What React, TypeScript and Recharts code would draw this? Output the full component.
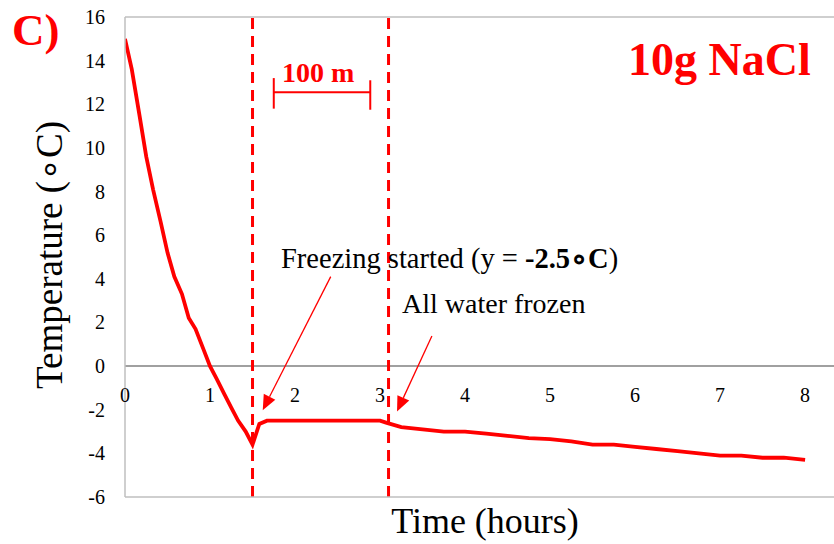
import React from 'react'
import { LineChart, Line, XAxis, YAxis, ReferenceLine } from 'recharts'

// time in hours
const times = [
  0, 0.08, 0.17, 0.25, 0.33, 0.42, 0.5, 0.58, 0.67, 0.75, 0.83, 0.92, 1.0,
  1.08, 1.17, 1.25, 1.33, 1.42, 1.5, 1.58, 1.67, 2.0, 2.5, 3.0, 3.08, 3.25,
  3.5, 3.75, 4.0, 4.25, 4.5, 4.75, 5.0, 5.25, 5.5, 5.75, 6.0, 6.25, 6.5,
  6.75, 7.0, 7.25, 7.5, 7.75, 8.0,
]
// temperature in °C
const temps = [
  15.0, 13.6, 11.5, 9.6, 8.1, 6.6, 5.2, 4.1, 3.3, 2.2, 1.7, 0.8, 0.0,
  -0.6, -1.3, -1.9, -2.5, -3.0, -3.6, -2.65, -2.5, -2.5, -2.5, -2.5, -2.6, -2.8,
  -2.9, -3.0, -3.0, -3.1, -3.2, -3.3, -3.35, -3.45, -3.6, -3.6, -3.7, -3.8, -3.9,
  -4.0, -4.1, -4.1, -4.2, -4.2, -4.3,
]
const xTicks = [0, 1, 2, 3, 4, 5, 6, 7, 8]
const yTicks = [-6, -4, -2, 0, 2, 4, 6, 8, 10, 12, 14, 16]

const FREEZE_START = 1.5
const ALL_FROZEN = 3.1

const W = 834
const H = 544
const TOP = 17
const BOTTOM = 497
const Y_MIN = -6
const Y_MAX = 16
const RED = '#ff0000'
const FONT = '"Liberation Serif", "Times New Roman", serif'

const data = times.map((t, i) => ({ t, temp: temps[i] }))

const zeroY = TOP + ((BOTTOM - TOP) * (Y_MAX - 0)) / (Y_MAX - Y_MIN)

function XTick(props: any) {
  const { x, payload } = props
  return (
    <text x={x} y={zeroY + 36} textAnchor="middle" fontSize={20} style={{ fontFamily: FONT }} fill="#000">
      {payload.value}
    </text>
  )
}

function YTick(props: any) {
  const { x, y, payload } = props
  return (
    <text x={x - 12} y={y + 7} textAnchor="end" fontSize={20} style={{ fontFamily: FONT }} fill="#000">
      {payload.value}
    </text>
  )
}

function Arrow(props: any) {
  const { x1, y1, x2, y2 } = props
  const a = Math.atan2(y2 - y1, x2 - x1)
  const len = 15
  const hw = 6.5
  const bx = x2 - len * Math.cos(a)
  const by = y2 - len * Math.sin(a)
  const px = -Math.sin(a) * hw
  const py = Math.cos(a) * hw
  return (
    <g>
      <line x1={x1} y1={y1} x2={bx} y2={by} stroke={RED} strokeWidth={1.3} />
      <polygon points={`${x2},${y2} ${bx + px},${by + py} ${bx - px},${by - py}`} fill={RED} />
    </g>
  )
}

export default function App() {
  return (
    <div style={{ position: 'absolute', left: 0, top: 0, width: W, height: H, background: '#fff', fontFamily: FONT }}>
      <LineChart
        width={W}
        height={H}
        data={data}
        margin={{ top: TOP, right: 0, bottom: H - BOTTOM - 20, left: 65 }}
        style={{ fontFamily: FONT }}
      >
        <XAxis
          dataKey="t"
          type="number"
          domain={[0, 8.34]}
          ticks={xTicks}
          interval={0}
          height={20}
          tickLine={false}
          axisLine={{ stroke: '#bfbfbf', strokeWidth: 1.5 }}
          tick={<XTick />}
          allowDataOverflow
        />
        <YAxis
          type="number"
          domain={[Y_MIN, Y_MAX]}
          ticks={yTicks}
          interval={0}
          width={60}
          tickLine={false}
          axisLine={{ stroke: '#bfbfbf', strokeWidth: 1.5 }}
          tick={<YTick />}
          label={{
            content: ({ viewBox }: any) => {
              const cx = 62
              const cy = viewBox.y + viewBox.height / 2 - 2
              return (
                <text
                  x={cx}
                  y={cy}
                  transform={`rotate(-90 ${cx} ${cy})`}
                  textAnchor="middle"
                  fontSize={37}
                  style={{ fontFamily: FONT }}
                  fill="#000"
                >
                  Temperature (∘C)
                </text>
              )
            },
          }}
        />
        <ReferenceLine y={Y_MAX} stroke="#bfbfbf" strokeWidth={1.5} />
        <ReferenceLine y={0} stroke="#808080" strokeWidth={1.5} />
        <ReferenceLine x={FREEZE_START} stroke={RED} strokeWidth={3} strokeDasharray="11 7" />
        <ReferenceLine x={ALL_FROZEN} stroke={RED} strokeWidth={3} strokeDasharray="11 7" />

        {/* 100 minute scale bar */}
        <ReferenceLine segment={[{ x: 1.75, y: 12.55 }, { x: 2.885, y: 12.55 }]} stroke={RED} strokeWidth={2} />
        <ReferenceLine segment={[{ x: 1.75, y: 11.8 }, { x: 1.75, y: 13.2 }]} stroke={RED} strokeWidth={2} />
        <ReferenceLine segment={[{ x: 2.885, y: 11.75 }, { x: 2.885, y: 13.1 }]} stroke={RED} strokeWidth={2} />

        {/* annotation arrows */}
        <ReferenceLine segment={[{ x: 2.42, y: 4.1 }, { x: 1.62, y: -2.02 }]} shape={<Arrow />} />
        <ReferenceLine segment={[{ x: 3.61, y: 1.38 }, { x: 3.2, y: -2.08 }]} shape={<Arrow />} />

        <Line
          type="linear"
          dataKey="temp"
          stroke={RED}
          strokeWidth={3.8}
          dot={false}
          activeDot={false}
          isAnimationActive={false}
        />
      </LineChart>
      <svg
        width={W}
        height={H}
        style={{ position: 'absolute', left: 0, top: 0, pointerEvents: 'none', fontFamily: FONT }}
      >
        <text x={12} y={45} fontSize={45} fontWeight="bold" fill={RED}>C)</text>
        <text x={628} y={75} fontSize={46} fontWeight="bold" fill={RED}>10g NaCl</text>
        <text x={282} y={82} fontSize={28} fontWeight="bold" fill={RED}>100 m</text>
        <text x={281} y={268} fontSize={28.5} fill="#000">
          Freezing started (y = <tspan fontWeight="bold">-2.5∘C</tspan>)
        </text>
        <text x={402} y={313} fontSize={28} fill="#000">All water frozen</text>
        <text x={485} y={533} fontSize={36} textAnchor="middle" fill="#000">Time (hours)</text>
      </svg>
    </div>
  )
}
